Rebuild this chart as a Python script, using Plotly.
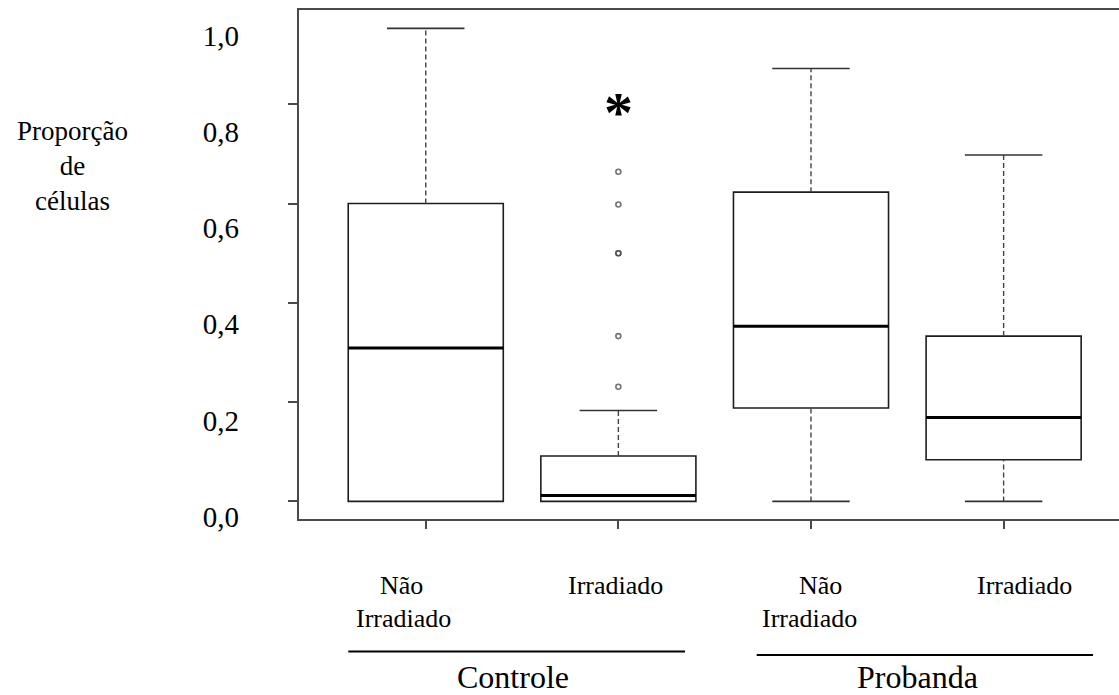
import plotly.graph_objects as go

# ---------------- data ----------------
categories = ["Não Irradiado", "Irradiado", "Não Irradiado", "Irradiado"]
category_lines = [["Não", "Irradiado"], ["Irradiado"], ["Não", "Irradiado"], ["Irradiado"]]
groups = ["Controle", "Probanda"]
group_members = [[0, 1], [2, 3]]

lower_whisker = [0.0, 0.0, 0.0, 0.0]
q1 = [0.0, 0.0, 0.188, 0.084]
median = [0.309, 0.012, 0.353, 0.169]
q3 = [0.600, 0.0915, 0.623, 0.333]
upper_whisker = [0.953, 0.183, 0.872, 0.698]

outlier_category = 1
outlier_values = [0.664, 0.598, 0.5, 0.5, 0.333, 0.231]

significance_category = 1
significance_value = 0.80
significance_text = "*"

ytick_vals = [0.0, 0.2, 0.4, 0.6, 0.8, 1.0]
ytick_text = ["0,0", "0,2", "0,4", "0,6", "0,8", "1,0"]
y_title_lines = ["Proporção", "de", "células"]

# ---------------- layout constants ----------------
W, H = 1119, 695
ML, MR, MT, MB = 299, 0, 10, 176
PH = H - MT - MB
XR = [-0.658, 3.599]
YR = [-0.0355, 0.990]
YR_LABELS = [-0.0054, 1.0546]
BOX_HALF = 0.4025
CAP_HALF = 0.201
FONT = "Liberation Serif"
AX_COL = "#4a4a4a"

fig = go.Figure()
x_pos = list(range(len(categories)))

for i in x_pos:
    fig.add_trace(go.Box(
        x=[i], q1=[q1[i]], median=[median[i]], q3=[q3[i]],
        lowerfence=[q1[i]], upperfence=[q3[i]],
        width=2 * BOX_HALF, whiskerwidth=0, boxpoints=False,
        fillcolor="white", line=dict(color="#1e1e1e", width=1.6),
        showlegend=False, hoverinfo="skip", name=categories[i]))

for i in x_pos:
    wx, wy, cx, cy = [], [], [], []
    if q1[i] > lower_whisker[i]:
        wx += [i, i, None]; wy += [lower_whisker[i], q1[i], None]
        cx += [i - CAP_HALF, i + CAP_HALF, None]; cy += [lower_whisker[i]] * 2 + [None]
    if upper_whisker[i] > q3[i]:
        wx += [i, i, None]; wy += [q3[i], upper_whisker[i], None]
        cx += [i - CAP_HALF, i + CAP_HALF, None]; cy += [upper_whisker[i]] * 2 + [None]
    fig.add_trace(go.Scatter(x=wx, y=wy, mode="lines",
                             line=dict(color="#444444", width=1.4, dash="5px,3px"),
                             showlegend=False, hoverinfo="skip"))
    fig.add_trace(go.Scatter(x=cx, y=cy, mode="lines",
                             line=dict(color="#333333", width=1.6),
                             showlegend=False, hoverinfo="skip"))
    fig.add_trace(go.Scatter(x=[i - BOX_HALF, i + BOX_HALF], y=[median[i], median[i]],
                             mode="lines", line=dict(color="black", width=3),
                             showlegend=False, hoverinfo="skip"))

fig.add_trace(go.Scatter(
    x=[outlier_category] * len(outlier_values), y=outlier_values, mode="markers",
    marker=dict(symbol="circle-open", size=5, color="rgba(70,70,70,0.75)",
                line=dict(width=1.6, color="rgba(70,70,70,0.75)")),
    showlegend=False, hoverinfo="skip"))

# carrier trace for the label axis
fig.add_trace(go.Scatter(x=[None], y=[None], yaxis="y2", showlegend=False, hoverinfo="skip"))

annotations = []
# significance marker
annotations.append(dict(x=significance_category, y=significance_value, xref="x", yref="y",
                        text="<b>" + significance_text + "</b>", showarrow=False, yshift=-8,
                        font=dict(family=FONT, size=58, color="black")))
# y title
annotations.append(dict(x=0, y=1, xref="paper", yref="paper", xshift=-227, yshift=-156,
                        text="<br>".join(y_title_lines), showarrow=False, align="center",
                        xanchor="center", yanchor="middle",
                        font=dict(family=FONT, size=27, color="black")))
# category labels
line_xshift = [[-24, -22], [-3], [10, -1], [21]]
line_yshift = [-66, -99]
for i in x_pos:
    for k, txt in enumerate(category_lines[i]):
        annotations.append(dict(x=i, y=0, xref="x", yref="paper", text=txt, showarrow=False,
                                xshift=line_xshift[i][k], yshift=line_yshift[k],
                                xanchor="center", yanchor="middle",
                                font=dict(family=FONT, size=26, color="black")))
# group labels and lines
group_xshift = [-9, 10]
group_line_span = [[-0.402, 1.346], [1.718, 3.464]]
group_line_offset = [132.5, 136]
shapes = []
for g, name in enumerate(groups):
    cx = sum(group_members[g]) / len(group_members[g])
    annotations.append(dict(x=cx, y=0, xref="x", yref="paper", text=name, showarrow=False,
                            xshift=group_xshift[g], yshift=-158,
                            xanchor="center", yanchor="middle",
                            font=dict(family=FONT, size=32, color="black")))
    x0p = (group_line_span[g][0] - XR[0]) / (XR[1] - XR[0])
    x1p = (group_line_span[g][1] - XR[0]) / (XR[1] - XR[0])
    yp = -group_line_offset[g] / PH
    shapes.append(dict(type="line", xref="paper", yref="paper", x0=x0p, x1=x1p, y0=yp, y1=yp,
                       line=dict(color="black", width=2)))

fig.update_layout(
    width=W, height=H, margin=dict(l=ML, r=MR, t=MT, b=MB),
    paper_bgcolor="white", plot_bgcolor="white",
    annotations=annotations, shapes=shapes,
    xaxis=dict(range=XR, tickvals=x_pos, showticklabels=False, ticks="outside",
               ticklen=8, tickwidth=1.5, tickcolor=AX_COL, showline=True, mirror=True,
               linecolor=AX_COL, linewidth=1.5, showgrid=False, zeroline=False),
    yaxis=dict(range=YR, tickvals=ytick_vals, showticklabels=False, ticks="outside",
               ticklen=9, tickwidth=1.5, tickcolor=AX_COL, showline=True,
               linecolor=AX_COL, linewidth=1.5, showgrid=False, zeroline=False),
    yaxis2=dict(range=YR_LABELS, overlaying="y", anchor="x", side="left",
                tickvals=ytick_vals, ticktext=ytick_text, ticks="", showline=False,
                showgrid=False, zeroline=False, ticklabelstandoff=59,
                tickfont=dict(family=FONT, size=29, color="black")),
)

fig.write_html("out.html", config={"displayModeBar": False},
               post_script="document.body.style.margin='0';")
